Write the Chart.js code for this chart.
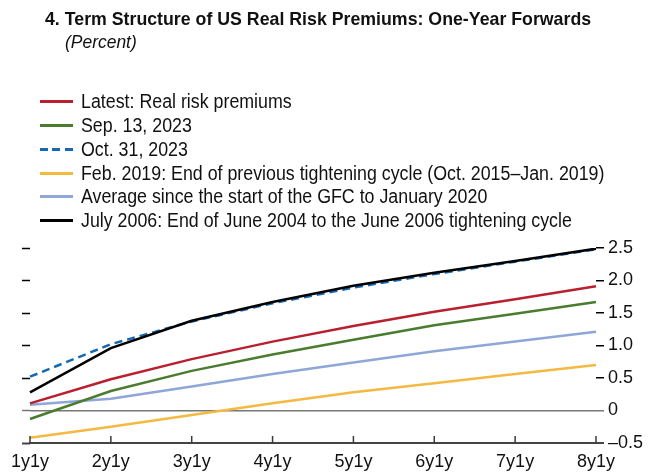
<!DOCTYPE html>
<html>
<head>
<meta charset="utf-8">
<script src="https://cdn.jsdelivr.net/npm/chart.js@4.4.0/dist/chart.umd.min.js"></script>
<style>
html, body { margin: 0; padding: 0; background: #fff; }
#wrap { position: relative; width: 662px; height: 476px; overflow: hidden; font-family: "Liberation Sans", Arial, sans-serif; color: #111; }
#chart { position: absolute; left: 0; top: 0; }
.txt { position: absolute; white-space: nowrap; transform-origin: 0 50%; }
#title { left: 45px; top: 8px; font-size: 18.6px; font-weight: bold; line-height: 22px; }
#sub { left: 65px; top: 31px; font-size: 17.7px; font-style: italic; line-height: 22px; }
.row { position: absolute; left: 0; width: 662px; height: 24px; }
.swatch { position: absolute; left: 40px; top: 11px; width: 33px; height: 3px; }
.lab { left: 80.7px; top: 0; font-size: 19.5px; line-height: 24px; }
</style>
</head>
<body>
<div id="wrap">
  <canvas id="chart" width="662" height="476"></canvas>
  <div id="title" class="txt">4. Term Structure of US Real Risk Premiums: One-Year Forwards</div>
  <div id="sub" class="txt">(Percent)</div>
  <div id="legend"></div>
</div>
<script>
// horizons
const xLabels = ['1y1y', '2y1y', '3y1y', '4y1y', '5y1y', '6y1y', '7y1y', '8y1y'];

// series (percent)
const latest   = [0.11, 0.48, 0.79, 1.06, 1.30, 1.52, 1.71, 1.91];
const sep13    = [-0.13, 0.30, 0.61, 0.86, 1.09, 1.31, 1.49, 1.67];
const oct31    = [0.52, 1.02, 1.37, 1.65, 1.89, 2.10, 2.29, 2.48];
const feb2019  = [-0.42, -0.25, -0.07, 0.11, 0.28, 0.42, 0.56, 0.70];
const gfcAvg   = [0.09, 0.18, 0.37, 0.56, 0.74, 0.91, 1.06, 1.21];
const july2006 = [0.28, 0.96, 1.38, 1.67, 1.92, 2.12, 2.30, 2.49];

const yTicks      = [-0.5, 0, 0.5, 1, 1.5, 2, 2.5];
const yTickLabels = ['\u20130.5', '0', '0.5', '1.0', '1.5', '2.0', '2.5'];

const datasets = [
  { label: 'Latest: Real risk premiums', data: latest, borderColor: '#b8202f' },
  { label: 'Sep. 13, 2023', data: sep13, borderColor: '#4a7c2f' },
  { label: 'Oct. 31, 2023', data: oct31, borderColor: '#1569b3', borderDash: [8, 5], order: 1 },
  { label: 'Feb. 2019: End of previous tightening cycle (Oct. 2015\u2013Jan. 2019)', data: feb2019, borderColor: '#f4b940' },
  { label: 'Average since the start of the GFC to January 2020', data: gfcAvg, borderColor: '#8ea6d8' },
  { label: 'July 2006: End of June 2004 to the June 2006 tightening cycle', data: july2006, borderColor: '#000000', order: -1 }
];
datasets.forEach(d => { d.borderWidth = 2.5; d.pointRadius = 0; d.tension = 0; d.fill = false; });

// legend in html, one row per series
const leg = document.getElementById('legend');
datasets.forEach((d, i) => {
  const row = document.createElement('div');
  row.className = 'row';
  row.style.top = Math.round(89 + i * 23.85) + 'px';
  const sw = document.createElement('div');
  sw.className = 'swatch';
  if (d.borderDash) {
    sw.style.background = 'repeating-linear-gradient(to right,' + d.borderColor + ' 0 8px, transparent 8px 12.5px)';
  } else {
    sw.style.background = d.borderColor;
  }
  const t = document.createElement('div');
  t.className = 'txt lab';
  t.textContent = d.label;
  row.appendChild(sw);
  row.appendChild(t);
  leg.appendChild(row);
});

// squeeze text horizontally to look like the condensed original
function fit(el, target) {
  const s = target / el.offsetWidth;
  el.style.transform = 'scaleX(' + s + ')';
  return s;
}
fit(document.getElementById('title'), 546);
fit(document.getElementById('sub'), 72);
const labs = Array.from(document.querySelectorAll('.lab'));
const s = 523 / labs[3].offsetWidth;
labs.forEach(el => el.style.transform = 'scaleX(' + s + ')');

const tickCol = ctx => {
  const v = ctx.tick ? ctx.tick.value : null;
  if (v === 0) return '#777777';
  if (v === -0.5) return '#444444';
  return '#000000';
};
const tickW = ctx => {
  const v = ctx.tick ? ctx.tick.value : null;
  if (v === -0.5) return 2;
  return 1.5;
};

const upTicks = {
  id: 'upTicks',
  afterDraw(chart) {
    const x = chart.scales.x, ctx = chart.ctx, b = chart.chartArea.bottom;
    ctx.save();
    ctx.strokeStyle = '#3a3a3a';
    ctx.lineWidth = 1.5;
    xLabels.forEach((l, i) => {
      const px = x.getPixelForValue(i);
      ctx.beginPath();
      ctx.moveTo(px, b);
      ctx.lineTo(px, b - 7);
      ctx.stroke();
    });
    ctx.restore();
  }
};

const font = { family: '"Liberation Sans", Arial, sans-serif', size: 18 };

new Chart(document.getElementById('chart'), {
  type: 'line',
  data: { labels: xLabels, datasets: datasets },
  options: {
    responsive: false,
    animation: false,
    layout: { padding: { top: 248, left: 22, right: 15, bottom: 0 } },
    plugins: { legend: { display: false }, tooltip: { enabled: false } },
    scales: {
      x: {
        offset: false,
        afterFit: sc => { sc.height = 33; },
        grid: { display: true, drawOnChartArea: false, drawTicks: false },
        border: { display: true, color: '#444444', width: 2 },
        ticks: { font: font, color: '#111', padding: 8, maxRotation: 0 }
      },
      y: {
        position: 'right',
        min: -0.5, max: 2.5,
        afterBuildTicks: sc => { sc.ticks = yTicks.map(v => ({ value: v })); },
        grid: {
          color: ctx => (ctx.tick && ctx.tick.value === 0) ? '#777777' : 'rgba(0,0,0,0)',
          lineWidth: tickW,
          tickLength: 8,
          tickColor: tickCol,
          tickWidth: tickW
        },
        border: { display: false },
        ticks: {
          font: font, color: '#111', padding: 4,
          callback: (v, i) => yTickLabels[i]
        }
      },
      y2: {
        position: 'left',
        min: -0.5, max: 2.5,
        afterBuildTicks: sc => { sc.ticks = yTicks.map(v => ({ value: v })); },
        grid: { drawOnChartArea: false, tickLength: 8, tickColor: tickCol, tickWidth: tickW },
        border: { display: false },
        ticks: { display: false }
      }
    }
  },
  plugins: [upTicks]
});
</script>
</body>
</html>
